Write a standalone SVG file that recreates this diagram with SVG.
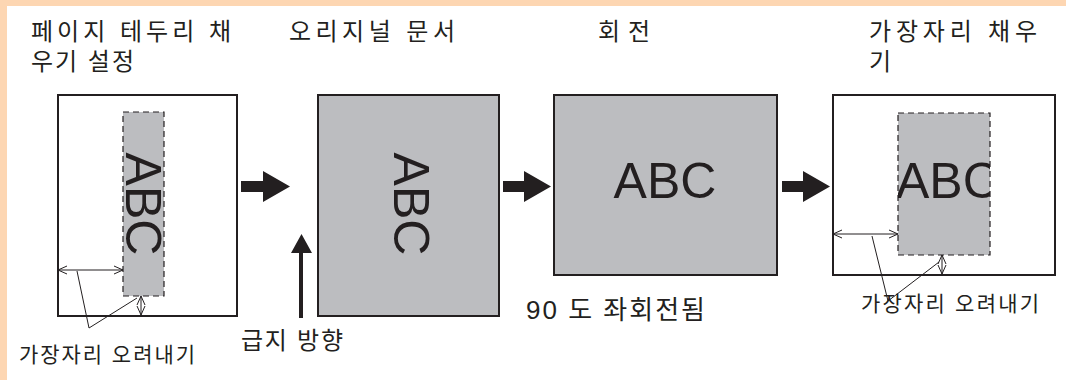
<svg xmlns="http://www.w3.org/2000/svg" width="1066" height="380" viewBox="0 0 1066 380">
<style>
.t{font-family:"Liberation Sans","Noto Sans CJK KR",sans-serif;fill:#231f20}
.h{font-size:24px}
.b{font-size:26px}
.s{font-size:21px}
.abc{font-family:"Liberation Sans",Arial,sans-serif;font-size:50px;fill:#231f20}
.frame{fill:#fff;stroke:#231f20;stroke-width:2}
.page{fill:#bcbdc0;stroke:#231f20;stroke-width:2}
.dash{fill:#bcbdc0;stroke:#231f20;stroke-width:1.2;stroke-dasharray:6 4}
.thin{fill:none;stroke:#231f20;stroke-width:1}
.big{fill:#231f20}
</style>
<defs>
<marker id="oa" viewBox="0 0 10 10" refX="10" refY="5" markerWidth="10" markerHeight="10" markerUnits="userSpaceOnUse" orient="auto-start-reverse">
<path d="M1,1 L10,5 L1,9" fill="none" stroke="#231f20" stroke-width="1"/>
</marker>
<clipPath id="c4"><rect x="898" y="113" width="92" height="142"/></clipPath>
</defs>
<rect x="0" y="0" width="1066" height="380" fill="#fff"/>
<rect x="0" y="0" width="1066" height="6" fill="#fdd6b2"/>
<rect x="0" y="0" width="7" height="380" fill="#fdd6b2"/>

<g id="panel1">
<text class="t h" x="31" y="40" textLength="200" lengthAdjust="spacing">페이지 테두리 채</text>
<text class="t h" x="31" y="70" textLength="103" lengthAdjust="spacing">우기 설정</text>
<rect class="frame" x="58" y="95" width="179" height="221"/>
<rect class="dash" x="123" y="112" width="41" height="184"/>
<text class="abc" text-anchor="middle" transform="translate(126,204) rotate(90)">ABC</text>
</g>

<g id="panel2">
<text class="t h" x="289" y="40" textLength="166" lengthAdjust="spacing">오리지널 문서</text>
<rect class="page" x="318" y="95" width="181" height="221"/>
<text class="abc" text-anchor="middle" transform="translate(394,204) rotate(90)">ABC</text>
<text class="t h" x="241" y="349" textLength="102" lengthAdjust="spacing">급지 방향</text>
</g>

<g id="panel3">
<text class="t h" x="598" y="40" textLength="52" lengthAdjust="spacing">회전</text>
<rect class="page" x="554" y="95" width="223" height="180"/>
<text class="abc" text-anchor="middle" x="665" y="198">ABC</text>
<text class="t b" x="526" y="319" textLength="179" lengthAdjust="spacing">90 도 좌회전됨</text>
</g>

<g id="panel4">
<text class="t h" x="869" y="40" textLength="168" lengthAdjust="spacing">가장자리 채우</text>
<text class="t h" x="869" y="70">기</text>
<rect class="frame" x="833" y="95" width="222" height="180"/>
<rect class="dash" x="898" y="113" width="92" height="142"/>
<text class="abc" x="896" y="198" clip-path="url(#c4)">ABC</text>
</g>

<g id="labels">
<text class="t s" x="19" y="362" textLength="176" lengthAdjust="spacing">가장자리 오려내기</text>
<text class="t s" x="861" y="311" textLength="178" lengthAdjust="spacing">가장자리 오려내기</text>
</g>

<g id="connectors">
<path class="big" d="M241,181 H263 V171 L290,186.5 L263,202 V192 H241 Z"/>
<path class="big" d="M503,181 H524 V171 L551,186.5 L524,202 V192 H503 Z"/>
<path class="big" d="M782,181 H803 V171 L830,186.5 L803,202 V192 H782 Z"/>
<path class="big" d="M299,318 V253 H291 L301.5,234 L312,253 H303 V318 Z"/>
<line class="thin" x1="58" y1="270" x2="123" y2="270" marker-start="url(#oa)" marker-end="url(#oa)"/>
<line class="thin" x1="141" y1="296" x2="141" y2="315" marker-start="url(#oa)" marker-end="url(#oa)"/>
<polyline class="thin" points="77,271 89,328 137,298"/>
<line class="thin" x1="833" y1="234" x2="898" y2="234" marker-start="url(#oa)" marker-end="url(#oa)"/>
<line class="thin" x1="942" y1="255" x2="942" y2="274" marker-start="url(#oa)" marker-end="url(#oa)"/>
<polyline class="thin" points="872,236 888,301 939,262"/>
</g>
</svg>
